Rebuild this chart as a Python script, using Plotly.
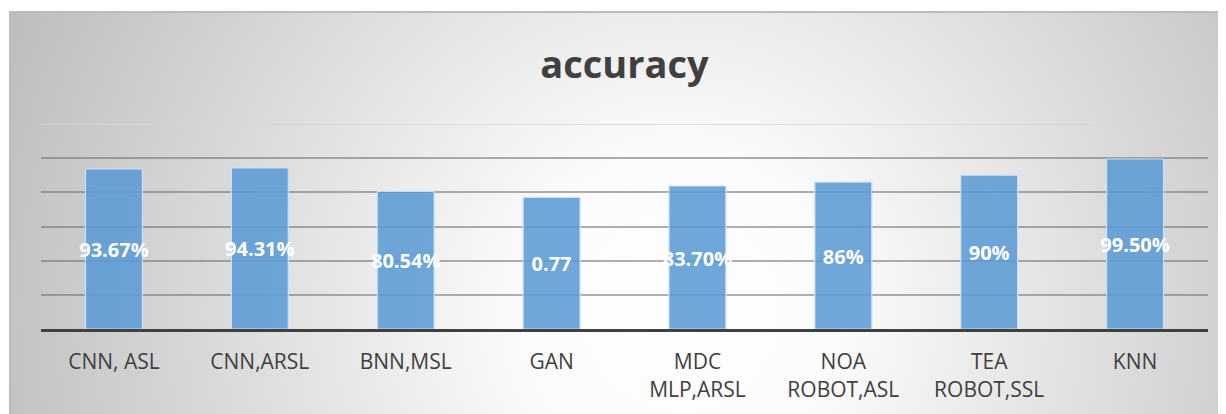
import plotly.graph_objects as go
import urllib.parse

categories = ["CNN, ASL", "CNN,ARSL", "BNN,MSL", "GAN", "MDC<br>MLP,ARSL",
              "NOA<br>ROBOT,ASL", "TEA<br>ROBOT,SSL", "KNN"]
values = [93.67, 94.31, 80.54, 77, 83.70, 86, 90, 99.50]
labels = ["93.67%", "94.31%", "80.54%", "0.77", "83.70%", "86%", "90%", "99.50%"]
grid_vals = [20, 40, 60, 80, 100]
y_max = 120

OFF = 8  # page body margin
W, H = 1226 - OFF, 414 - OFF
L, R, T, B = 41 - OFF, 18, 124 - OFF, 85
pw, ph = W - L - R, H - T - B
FX, FY = 10 - OFF, 12 - OFF  # frame origin
label_shift = 3 * y_max / ph  # small downward nudge of the value labels (3 px)

svg = ('<svg xmlns="http://www.w3.org/2000/svg" width="1216" height="402" preserveAspectRatio="none">'
       '<defs><radialGradient id="g" gradientUnits="userSpaceOnUse" cx="670" cy="300" r="720">'
       '<stop offset="0" stop-color="#ffffff"/><stop offset="0.22" stop-color="#fbfbfb"/>'
       '<stop offset="1" stop-color="#bebebe"/></radialGradient></defs>'
       '<rect x="0" y="0" width="1216" height="402" fill="url(#g)"/></svg>')
src = "data:image/svg+xml;utf8," + urllib.parse.quote(svg)

fig = go.Figure()
fig.add_trace(go.Bar(
    x=categories, y=values, width=0.39,
    marker=dict(color="rgba(91,155,213,0.88)", line=dict(color="rgba(205,226,244,0.95)", width=1.2)),
    hoverinfo="skip",
))
fig.add_trace(go.Scatter(
    x=categories, y=[v / 2 - label_shift for v in values], mode="text", text=labels,
    textposition="middle center",
    textfont=dict(family="Open Sans", size=20, color="white", weight="bold"),
    hoverinfo="skip",
))

fig.add_shape(type="line", xref="paper", yref="y", x0=0, x1=1, y0=y_max, y1=y_max,
              line=dict(color="#d6d6d6", width=1.5), layer="below")

# frame
fig.add_shape(type="rect", xref="paper", yref="paper",
              x0=(FX - L) / pw, x1=(W + 5 - L) / pw,
              y0=(ph + T - FY) / ph, y1=-(B + 5) / ph,
              line=dict(color="#bcbcbc", width=2), fillcolor="rgba(0,0,0,0)")

fig.update_layout(
    width=W, height=H,
    margin=dict(l=L, r=R, t=T, b=B, pad=0),
    paper_bgcolor="white", plot_bgcolor="rgba(0,0,0,0)",
    showlegend=False,
    title=dict(text="<b>accuracy</b>", x=0.5, xref="paper", xanchor="center",
               y=1 - (65 - OFF) / H, yref="container", yanchor="middle",
               font=dict(family="Open Sans", size=38, color="#404040")),
    images=[dict(source=src, xref="paper", yref="paper",
                 x=(FX - L) / pw, y=(ph + T - FY) / ph,
                 sizex=(W - FX) / pw, sizey=(H - FY) / ph,
                 xanchor="left", yanchor="top", sizing="stretch", layer="below")],
    xaxis=dict(showline=True, linecolor="#404040", linewidth=3, ticks="",
               tickfont=dict(family="Open Sans", size=21, color="#404040"),
               ticklabelstandoff=12,
               showgrid=False, zeroline=False),
    yaxis=dict(range=[0, y_max], tickvals=grid_vals, showticklabels=False,
               showgrid=True, gridcolor="rgba(110,110,110,0.55)", gridwidth=1.5,
               zeroline=False, showline=False),
)

fig.write_html("out.html")
